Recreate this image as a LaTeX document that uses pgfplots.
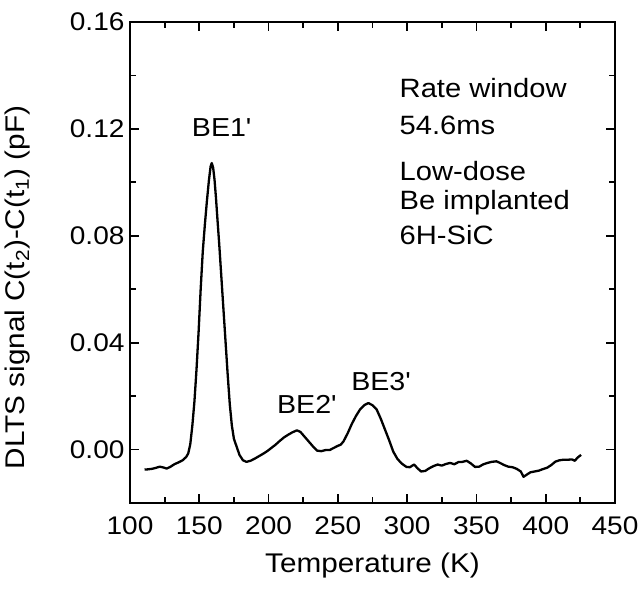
\documentclass[border=0pt]{standalone}
\usepackage{fontspec}
\setmainfont{Liberation Sans}[FakeStretch=1.1]
\usepackage{pgfplots}
\pgfplotsset{compat=1.18}
\usetikzlibrary{calc}

\pgfplotstableread{
T S
110.5 -0.0075
113 -0.0074
116 -0.0072
119 -0.0068
121.5 -0.0064
124 -0.0067
126.5 -0.0071
129 -0.0065
132 -0.0055
135 -0.0048
138 -0.0040
140.5 -0.0028
142 -0.0015
143.5 0.0020
145 0.0090
146.5 0.0180
148 0.0300
149.5 0.0440
151 0.0600
152.5 0.0740
154 0.0840
155.5 0.0930
157 0.1010
158.2 0.1060
159 0.1072
160 0.1055
161 0.1010
162 0.0945
163 0.0870
164.5 0.0760
166 0.0640
167.5 0.0520
169 0.0400
170.5 0.0280
172 0.0170
173.5 0.0090
175 0.0040
177 0.0010
179 -0.0020
181.5 -0.0040
184 -0.0046
187 -0.0042
190 -0.0034
193 -0.0025
196 -0.0016
199 -0.0006
202 0.0006
205 0.0018
208 0.0032
211 0.0045
214 0.0055
217 0.0064
220.5 0.0072
223 0.0066
226 0.0048
229 0.0030
232 0.0012
235 -0.0004
238 -0.0006
241 -0.0002
244 -0.0002
247 0.0006
250 0.0014
252 0.0018
254 0.0030
257 0.0060
260 0.0095
263 0.0125
266 0.0150
269 0.0166
272 0.0174
275 0.0166
278 0.0150
281 0.0115
284 0.0075
287 0.0035
290 -0.0008
293 -0.0035
296 -0.0052
299.5 -0.0065
302 -0.0066
305 -0.0056
307.5 -0.0070
310 -0.0082
313 -0.0080
316 -0.0070
319 -0.0062
322 -0.0056
325 -0.0060
328 -0.0054
331 -0.0050
334 -0.0055
337 -0.0047
340 -0.0046
343 -0.0042
346 -0.0052
349 -0.0065
352 -0.0064
355 -0.0055
358 -0.0050
361 -0.0046
364.5 -0.0044
367 -0.0050
370 -0.0058
373 -0.0064
376 -0.0066
379 -0.0072
382 -0.0082
384 -0.0102
386 -0.0095
389 -0.0085
392 -0.0082
395 -0.0079
398 -0.0073
401 -0.0068
404 -0.0058
407 -0.0045
410 -0.0040
413 -0.0038
416 -0.0038
419 -0.0037
421 -0.0042
423 -0.0030
425.5 -0.0020
}\dlts

\begin{document}
\begin{tikzpicture}
\begin{axis}[
    scale only axis, width=485pt, height=481pt,
    xmin=100, xmax=450, ymin=-0.02, ymax=0.16,
    xtick={100,150,...,450}, minor x tick num=1,
    ytick={0,0.04,0.08,0.12,0.16}, minor y tick num=1,
    scaled y ticks=false,
    yticklabel style={/pgf/number format/fixed, /pgf/number format/fixed zerofill,
      /pgf/number format/precision=2},
    /pgf/number format/assume math mode=true,
    tick align=inside, tick pos=both,
    major tick length=9pt, minor tick length=6pt,
    every tick/.style={black, line width=1.8pt},
    axis line style={line width=2pt},
    ticklabel style={font=\fontsize{25.5}{30}\selectfont},
    xticklabel style={yshift=-10pt},
    yticklabel style={xshift=-2pt},
    xlabel={Temperature (K)},
    ylabel={DLTS signal C(t\textsubscript{2})-C(t\textsubscript{1}) (pF)},
    label style={font=\fontsize{27}{32}\selectfont},
    xlabel style={at={(axis description cs:0.5,-0.131)}, anchor=center},
    ylabel style={at={(axis description cs:-0.232,0.448)}, anchor=center},
    clip=false,
  ]
  \addplot[black, line width=2.3pt, line join=round] table[x=T, y=S] {\dlts};
  \node[font=\fontsize{26}{30}\selectfont] at (axis cs:166,0.1204) {BE1\textquotesingle};
  \node[font=\fontsize{26}{30}\selectfont] at (axis cs:227.5,0.0168) {BE2\textquotesingle};
  \node[font=\fontsize{26}{30}\selectfont] at (axis cs:281,0.0254) {BE3\textquotesingle};
  \begin{scope}[every node/.style={anchor=west, inner sep=0pt, font=\fontsize{26.5}{30}\selectfont}]
    \node at (axis cs:294.5,0.1354) {Rate window};
    \node at (axis cs:294.5,0.1212) {54.6ms};
    \node at (axis cs:294.5,0.1043) {Low-dose};
    \node at (axis cs:294.5,0.0924) {Be implanted};
    \node at (axis cs:294.5,0.0804) {6H-SiC};
  \end{scope}
\end{axis}
\pgfresetboundingbox
\path[use as bounding box] ($(current axis.south west)+(-130pt,-86pt)$) rectangle ($(current axis.north east)+(24pt,22pt)$);
\end{tikzpicture}
\end{document}
